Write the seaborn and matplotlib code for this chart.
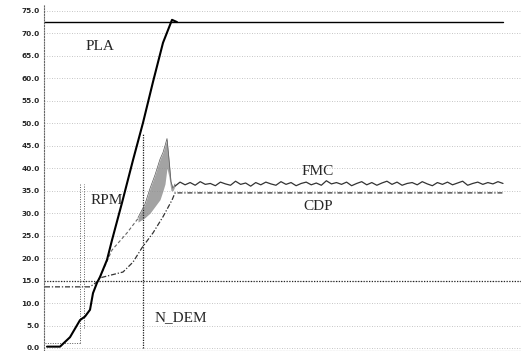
import numpy as np
import matplotlib
matplotlib.use("Agg")
import matplotlib.pyplot as plt
import seaborn as sns

# ---------------- data ----------------
pla_x = [0.3, 1.6, 2.6, 3.1, 3.6, 4.1, 4.6, 4.9, 5.3, 5.6, 6.3, 6.8, 7.8, 8.9, 9.9, 10.9, 11.9, 12.8, 13.3]
pla_y = [0.3, 0.3, 2.4, 4.3, 6.2, 7.0, 8.5, 12.2, 14.5, 15.8, 19.6, 24.0, 32.3, 41.8, 50.1, 59.2, 67.9, 73.0, 72.5]
pla_max = 72.5
x_end = 45.9

cdp_x = [0.1, 4.6, 5.3, 5.6, 7.9, 8.9, 9.8, 10.9, 11.9, 12.8, 13.1, 45.9]
cdp_y = [13.6, 13.6, 14.7, 15.6, 16.9, 19.1, 22.3, 25.6, 29.2, 32.9, 34.5, 34.5]

fmc_rise_x = [5.6, 6.8, 8.3, 9.4]
fmc_rise_y = [15.8, 21.8, 25.6, 28.8]

band_x = [9.4, 10.1, 10.6, 11.1, 11.6, 11.9, 12.1, 12.3, 12.5, 12.7, 12.9, 13.1]
band_lo = [28.0, 29.0, 30.0, 31.5, 33.0, 35.0, 36.5, 40.0, 38.0, 35.0, 35.0, 36.0]
band_hi = [29.0, 32.0, 35.5, 38.5, 42.0, 43.5, 45.0, 46.6, 42.0, 37.0, 35.5, 36.5]

fmc_flat_y = [36.0, 36.9, 36.3, 36.8, 36.2, 37.0, 36.4, 36.6, 36.1, 36.9, 36.5, 36.2,
              37.1, 36.4, 36.7, 36.0, 36.8, 36.3, 36.9, 36.5, 36.2, 37.0, 36.4, 36.8,
              36.1, 36.6, 36.9, 36.3, 36.7, 36.2, 37.2, 36.5, 36.8, 36.4, 36.9, 36.1,
              36.6, 37.0, 36.3, 36.8, 36.2, 36.7, 37.1, 36.4, 36.9, 36.2, 36.6, 36.8,
              36.3, 37.0, 36.5, 36.1, 36.8, 36.4, 36.9, 36.3, 36.7, 37.1, 36.2, 36.6,
              36.9, 36.4, 36.8, 36.5, 37.0, 36.6]
fmc_flat_x = np.linspace(13.1, 45.9, len(fmc_flat_y))

yticks = np.arange(0, 80, 5)

# ---------------- plot ----------------
sns.set_style("white")
plt.rcParams['font.family'] = ['DejaVu Sans']

fig = plt.figure(figsize=(5.21, 3.51), dpi=100)
ax = fig.add_axes([44 / 521, 0, 477 / 521, 346 / 351])

ax.set_xlim(0, 47.7)
ax.set_ylim(-0.67, 76.3)

# grid
for v in yticks:
    ax.axhline(v, color='0.7', ls=(0, (1, 2)), lw=0.6, zorder=0)
ax.axhline(15, color='0.15', ls=(0, (1, 1.2)), lw=0.9, zorder=1)

# dotted helper lines
ax.plot([3.55, 3.55], [1.1, 36.5], color='0.35', ls=(0, (1, 1.5)), lw=0.7)
ax.plot([4.0, 4.0], [4.5, 36.5], color='0.35', ls=(0, (1, 1.5)), lw=0.7)
ax.plot([0.1, 3.55], [1.1, 1.1], color='0.35', ls=(0, (1, 1.5)), lw=0.7)
ax.plot([9.9, 9.9], [0, 47.6], color='0.1', ls=(0, (1, 1)), lw=0.9)

# PLA maximum line
ax.plot([0, x_end], [pla_max, pla_max], color='black', lw=1.0)

# FMC transient band
ax.fill_between(band_x, band_lo, band_hi, color='0.55', alpha=0.8, lw=0)

sns.lineplot(x=cdp_x, y=cdp_y, ax=ax, color='0.2', lw=0.9, ls=(0, (4, 1.5, 1, 1.5)),
             estimator=None, sort=False)
sns.lineplot(x=fmc_rise_x, y=fmc_rise_y, ax=ax, color='0.4', lw=0.8, ls=(0, (3, 2)),
             estimator=None, sort=False)
sns.lineplot(x=band_x, y=band_hi, ax=ax, color='0.35', lw=0.5, estimator=None, sort=False)
sns.lineplot(x=fmc_flat_x, y=fmc_flat_y, ax=ax, color='0.2', lw=0.9,
             estimator=None, sort=False)
sns.lineplot(x=pla_x, y=pla_y, ax=ax, color='black', lw=1.5, estimator=None, sort=False)

# labels
lab = dict(family='Liberation Serif', fontsize=11, ha='center', va='center')
ax.text(5.6, 67.0, 'PLA', **lab)
ax.text(6.3, 32.9, 'RPM', **lab)
ax.text(27.4, 39.2, 'FMC', **lab)
ax.text(27.4, 31.4, 'CDP', **lab)
ax.text(13.7, 6.7, 'N_DEM', **lab)

# axes styling
ax.set_yticks(yticks)
ax.set_yticklabels([f"{v:.1f}" for v in yticks], fontsize=5.3, fontweight='bold')
ax.set_xticks([])
ax.tick_params(axis='y', length=2, width=0.6, pad=1)
for s in ['top', 'right']:
    ax.spines[s].set_visible(False)
ax.spines['left'].set_linestyle((0, (1, 1.5)))
ax.spines['left'].set_color('0.4')
ax.spines['bottom'].set_linestyle((0, (1, 1.5)))
ax.spines['bottom'].set_color('0.4')
ax.set_xlabel('')
ax.set_ylabel('')

fig.savefig('out.png', dpi=100)
